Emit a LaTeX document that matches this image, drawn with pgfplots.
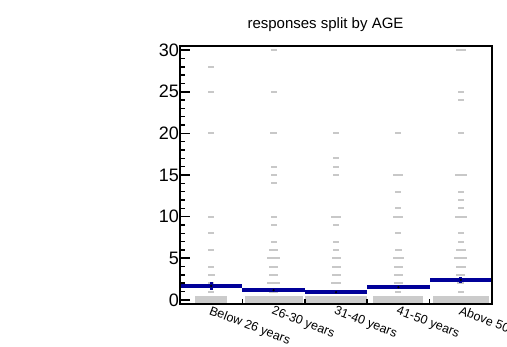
\documentclass[border=0pt]{standalone}
\usepackage{fontspec}
\setmainfont{Liberation Sans}
\usepackage{pgfplots}
\usepackage{pgfplotstable}
\pgfplotsset{compat=1.18}
\definecolor{dashgray}{RGB}{200,200,200}
\definecolor{meanblue}{RGB}{0,0,153}

\pgfplotstableread{
x y e
0.5 28 0.048
0.5 25 0.048
0.5 20 0.048
0.5 10 0.048
0.5 8 0.048
0.5 6 0.048
0.5 4 0.048
0.5 3 0.055
0.5 2 0.048
0.5 1 0.048
1.5 30 0.048
1.5 25 0.048
1.5 20 0.055
1.5 16 0.048
1.5 15 0.048
1.5 14 0.048
1.5 10 0.048
1.5 9 0.048
1.5 7 0.048
1.5 6 0.072
1.5 5 0.104
1.5 4 0.072
1.5 3 0.072
1.5 2 0.104
1.5 1 0.072
2.5 20 0.048
2.5 17 0.048
2.5 16 0.048
2.5 15 0.048
2.5 10 0.080
2.5 9 0.048
2.5 7 0.055
2.5 6 0.055
2.5 5 0.072
2.5 4 0.072
2.5 3 0.072
2.5 2 0.085
2.5 1 0.072
3.5 20 0.048
3.5 15 0.080
3.5 13 0.048
3.5 11 0.048
3.5 10 0.080
3.5 8 0.048
3.5 6 0.055
3.5 5 0.088
3.5 4 0.072
3.5 3 0.072
3.5 2 0.072
3.5 1 0.048
4.5 30 0.080
4.5 25 0.048
4.5 24 0.048
4.5 20 0.048
4.5 15 0.100
4.5 13 0.048
4.5 12 0.048
4.5 11 0.048
4.5 10 0.100
4.5 8 0.048
4.5 7 0.048
4.5 6 0.080
4.5 5 0.104
4.5 4 0.080
4.5 3 0.072
4.5 2 0.055
4.5 1 0.048
}\dashes

\pgfplotstableread{
x y e
0.5 0.07 0.256
1.5 0.07 0.465
2.5 0.07 0.497
3.5 0.07 0.400
4.5 0.07 0.449
}\zeros

\pgfplotstableread{
x y ex ey
0.5 1.68 0.5 0.50
1.5 1.16 0.5 0.15
2.5 0.92 0.5 0.12
3.5 1.52 0.5 0.25
4.5 2.40 0.5 0.35
}\means

\begin{document}
\begin{tikzpicture}[x=1bp,y=1bp]
\path[use as bounding box] (0,0) rectangle (507,346);
\node[anchor=base, font=\fontsize{15bp}{18bp}\selectfont, inner sep=0pt] at (325.5,318) {responses split by AGE};
\begin{axis}[
  at={(180bp,42bp)}, anchor=south west,
  scale only axis, width=312bp, height=258bp,
  xmin=0, xmax=5, ymin=-0.5, ymax=30.5,
  axis on top,
  axis line style={line width=1.5bp},
  xtick={0.5,1.5,2.5,3.5,4.5},
  xticklabels={Below 26 years, 26-30 years, 31-40 years, 41-50 years, Above 50 years},
  minor xtick={1,2,3,4},
  every major x tick/.append style={draw=none},
  ytick={0,5,10,15,20,25,30},
  minor y tick num=4,
  xtick pos=bottom, ytick pos=left,
  tick align=inside,
  major tick length=10bp, minor tick length=5bp,
  tick style={line width=1.5bp, black},
  /pgf/number format/assume math mode=true,
  yticklabel style={font=\fontsize{18bp}{20bp}\selectfont, inner sep=1bp},
  xticklabel style={font=\fontsize{12.5bp}{14bp}\selectfont, rotate=-21, anchor=north west, inner sep=1bp},
]
\addplot[forget plot, draw=none, mark=none,
  error bars/.cd, x dir=both, x explicit, error mark=none,
  error bar style={draw=dashgray, line width=2bp}]
  table[x=x, y=y, x error=e] {\dashes};
\addplot[forget plot, draw=none, mark=none,
  error bars/.cd, x dir=both, x explicit, error mark=none,
  error bar style={draw=dashgray!95!white, line width=6.7bp}]
  table[x=x, y=y, x error=e] {\zeros};
\addplot[forget plot, draw=none, mark=none,
  error bars/.cd, x dir=both, x explicit, error mark=none,
  error bar style={draw=meanblue, line width=4.5bp}]
  table[x=x, y=y, x error=ex] {\means};
\addplot[forget plot, only marks, mark=*, mark size=0.9bp, mark options={black},
  error bars/.cd, y dir=both, y explicit, error mark=none,
  error bar style={draw=meanblue, line width=3bp}]
  table[x=x, y=y, y error=ey] {\means};
\end{axis}
\end{tikzpicture}
\end{document}
